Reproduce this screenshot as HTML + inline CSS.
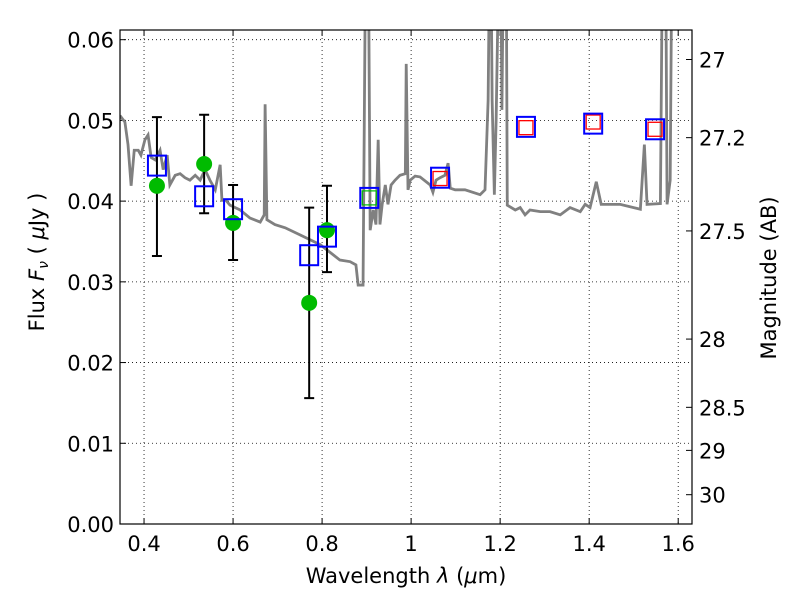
<!DOCTYPE html>
<html><head><meta charset="utf-8"><style>
body{margin:0;background:#fff}
svg text{font-family:"DejaVu Sans","Liberation Sans",sans-serif;font-size:21px;fill:#000}
</style></head><body>
<svg id="c" width="800" height="600"></svg>
<script>
const specWl=[0.346,0.357,0.364,0.371,0.378,0.387,0.393,0.402,0.409,0.416,0.425,0.436,0.443,0.452,0.458,0.470,0.481,0.492,0.503,0.515,0.526,0.537,0.548,0.560,0.571,0.575,0.584,0.593,0.616,0.638,0.661,0.670,0.672,0.676,0.694,0.717,0.751,0.796,0.840,0.863,0.876,0.881,0.885,0.892,0.899,0.903,0.908,0.915,0.921,0.926,0.930,0.935,0.942,0.948,0.955,0.964,0.975,0.987,0.989,0.993,0.998,1.009,1.020,1.043,1.049,1.056,1.065,1.076,1.083,1.088,1.099,1.121,1.155,1.166,1.173,1.178,1.182,1.187,1.191,1.200,1.204,1.209,1.213,1.216,1.234,1.245,1.256,1.267,1.290,1.312,1.335,1.357,1.380,1.391,1.402,1.416,1.427,1.449,1.470,1.515,1.524,1.530,1.560,1.566,1.571,1.575,1.582,1.587,1.627];
const specFlux=[0.0506,0.0498,0.0470,0.0419,0.0463,0.0463,0.0457,0.0476,0.0482,0.0454,0.0451,0.0463,0.0439,0.0457,0.0420,0.0432,0.0434,0.0429,0.0426,0.0432,0.0426,0.0439,0.0426,0.0414,0.0445,0.0401,0.0401,0.0395,0.0389,0.0379,0.0374,0.0383,0.0520,0.0377,0.0371,0.0367,0.0358,0.0346,0.0327,0.0325,0.0321,0.0296,0.0296,0.0296,0.08,0.08,0.0364,0.0389,0.0371,0.0476,0.0371,0.0396,0.0420,0.0396,0.0420,0.0426,0.0432,0.0434,0.0570,0.0414,0.0426,0.0431,0.0430,0.0420,0.0411,0.0426,0.0429,0.0432,0.0447,0.0416,0.0414,0.0414,0.0408,0.0414,0.0525,0.08,0.0525,0.0408,0.0501,0.08,0.0513,0.08,0.08,0.0395,0.0389,0.0392,0.0383,0.0389,0.0387,0.0387,0.0383,0.0392,0.0387,0.0396,0.0392,0.0424,0.0396,0.0396,0.0396,0.0390,0.0470,0.0396,0.0397,0.08,0.08,0.0396,0.0426,0.08,0.08];
const modelWl=[0.429,0.535,0.600,0.771,0.811,0.906,1.065,1.258,1.409,1.548];
const modelFlux=[0.0444,0.0406,0.0390,0.0333,0.0356,0.0404,0.0429,0.0492,0.0496,0.0489];
const obsWl=[0.429,0.535,0.600,0.771,0.811];
const obsFlux=[0.0419,0.0446,0.0373,0.0274,0.0364];
const obsHi=[0.0504,0.0507,0.0420,0.0392,0.0419];
const obsLo=[0.0332,0.0385,0.0327,0.0156,0.0312];
const greenWl=[0.906];const greenFlux=[0.0404];
const redWl=[1.065,1.258,1.409,1.548];const redFlux=[0.0428,0.0491,0.0498,0.0489];
const xTicks=[0.4,0.6,0.8,1.0,1.2,1.4,1.6];const xLabels=["0.4","0.6","0.8","1","1.2","1.4","1.6"];
const yTicks=[0,0.01,0.02,0.03,0.04,0.05,0.06];const yLabels=["0.00","0.01","0.02","0.03","0.04","0.05","0.06"];
const magTicks=[27,27.2,27.5,28,28.5,29,30];const magLabels=["27","27.2","27.5","28","28.5","29","30"];

const L=120,R=692,T=30,B=524,x0=0.346,x1=1.631,y0=0,y1=0.0612;
const X=v=>L+(v-x0)/(x1-x0)*(R-L);
const Y=v=>B-(v-y0)/(y1-y0)*(B-T);
const svg=document.getElementById('c');const NS='http://www.w3.org/2000/svg';
function mk(t,a,p){const e=document.createElementNS(NS,t);for(const k in a)e.setAttribute(k,a[k]);(p||svg).appendChild(e);return e;}
const clip=mk('clipPath',{id:'pc'});mk('rect',{x:L,y:T,width:R-L,height:B-T},clip);
const grid=mk('g',{});


xTicks.forEach((t,i)=>{const x=X(t);
 mk('line',{x1:x,x2:x,y1:T,y2:B,stroke:'#000','stroke-dasharray':'1,3','stroke-width':0.8},grid);
 mk('line',{x1:x,x2:x,y1:B,y2:B-6,stroke:'#000'});mk('line',{x1:x,x2:x,y1:T,y2:T+6,stroke:'#000'});
 const tx=mk('text',{x:x,y:B+27,'text-anchor':'middle'});tx.textContent=xLabels[i];
 
 });
yTicks.forEach((t,i)=>{const y=Y(t);
 mk('line',{x1:L,x2:R,y1:y,y2:y,stroke:'#000','stroke-dasharray':'1,3','stroke-width':0.8},grid);
 mk('line',{x1:L,x2:L+6,y1:y,y2:y,stroke:'#000'});
 const tx=mk('text',{x:L-6,y:y+8,'text-anchor':'end'});tx.textContent=yLabels[i];
 
 });
magTicks.forEach((m,i)=>{const y=Y(Math.pow(10,-(m-23.9)/2.5));
 mk('line',{x1:R,x2:R-6,y1:y,y2:y,stroke:'#000'});
 const tx=mk('text',{x:R+7,y:y+8});tx.textContent=magLabels[i];
 
 });
const g=mk('g',{'clip-path':'url(#pc)'});
const sp=mk('polyline',{points:specWl.map((w,i)=>X(w)+','+Y(specFlux[i])).join(' '),fill:'none',stroke:'#808080','stroke-width':2.8},g);


obsWl.forEach((w,i)=>{const x=X(w);
 const e=mk('path',{d:`M${x},${Y(obsHi[i])}V${Y(obsLo[i])}M${x-5},${Y(obsHi[i])}h10M${x-5},${Y(obsLo[i])}h10`,stroke:'#000','stroke-width':2,fill:'none'},g);
 
 });
obsWl.forEach((w,i)=>{const c=mk('circle',{cx:X(w),cy:Y(obsFlux[i]),r:8,fill:'#00bb00'},g);
 
 });
greenWl.forEach((w,i)=>{const r=mk('rect',{x:X(w)-7,y:Y(greenFlux[i])-7,width:14,height:14,fill:'none',stroke:'#00bb00','stroke-width':1.2},g);
 
 });
redWl.forEach((w,i)=>{const r=mk('rect',{x:X(w)-7,y:Y(redFlux[i])-7,width:14,height:14,fill:'none',stroke:'#ff0000','stroke-width':1.3},g);
 
 });
modelWl.forEach((w,i)=>{const r=mk('rect',{x:X(w)-9,y:Y(modelFlux[i])-10,width:18,height:20,fill:'none',stroke:'#0000ff','stroke-width':2},g);
 
 });
mk('rect',{x:L,y:T,width:R-L,height:B-T,fill:'none',stroke:'#000','stroke-width':1.2});
let t=mk('text',{x:406,y:583,'text-anchor':'middle'});t.innerHTML='Wavelength  <tspan font-style="italic">λ</tspan> (<tspan font-style="italic">μ</tspan>m)';


t=mk('text',{transform:'translate(44,262) rotate(-90)','text-anchor':'middle'});t.innerHTML='Flux  <tspan font-style="italic">F<tspan font-size="14" dy="4">ν</tspan></tspan><tspan dy="-4">  ( </tspan><tspan font-style="italic">μ</tspan>Jy )';


t=mk('text',{transform:'translate(776,278) rotate(-90)','text-anchor':'middle'});t.textContent='Magnitude (AB)';


</script></body></html>
